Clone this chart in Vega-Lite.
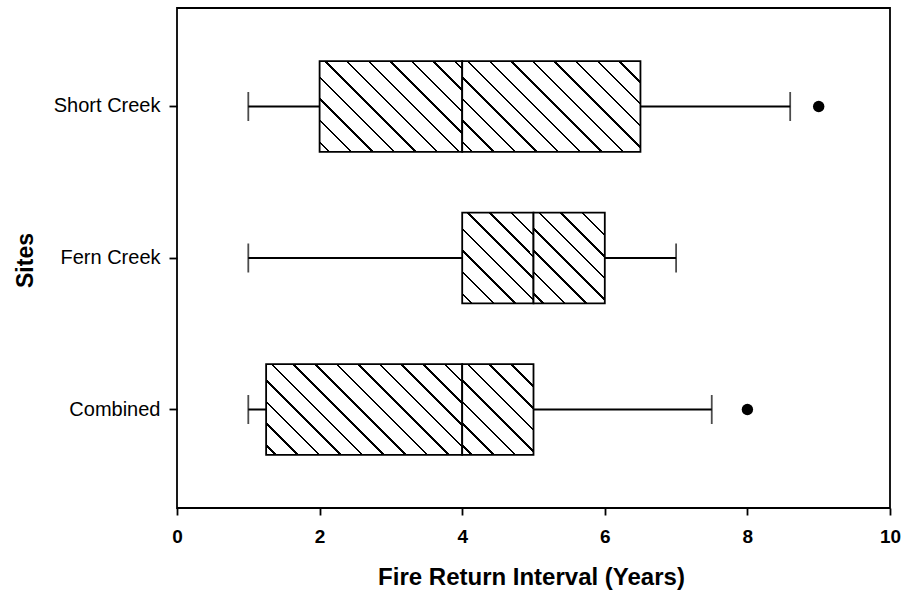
{
  "$schema": "https://vega.github.io/schema/vega-lite/v6.json",
  "width": 713,
  "height": 500,
  "autosize": {"type": "none"},
  "padding": {"left": 177, "top": 8, "right": 24, "bottom": 82},
  "background": "white",
  "config": {
    "font": "Liberation Sans",
    "view": {"stroke": "black", "strokeWidth": 1.8}
  },
  "datasets": {
    "boxes": [
      {"site": "Short Creek", "lower": 1, "q1": 2, "median": 4, "q3": 6.5, "upper": 8.6},
      {"site": "Fern Creek", "lower": 1, "q1": 4, "median": 5, "q3": 6, "upper": 7},
      {"site": "Combined", "lower": 1, "q1": 1.25, "median": 4, "q3": 5, "upper": 7.5}
    ],
    "outliers": [
      {"site": "Short Creek", "value": 9},
      {"site": "Combined", "value": 8}
    ]
  },
  "data": {"name": "boxes"},
  "encoding": {
    "y": {
      "field": "site",
      "type": "nominal",
      "sort": ["Short Creek", "Fern Creek", "Combined"],
      "scale": {"paddingInner": 0, "paddingOuter": 0.15},
      "axis": {
        "title": "Sites",
        "titleFont": "Liberation Sans",
        "titleFontSize": 23,
        "titleFontWeight": "bold",
        "titleColor": "black",
        "titleAngle": 270,
        "titleBaseline": "alphabetic",
        "titleAlign": "center",
        "titleX": -145,
        "titleY": 252,
        "domain": false,
        "grid": false,
        "ticks": true,
        "tickColor": "black",
        "tickWidth": 1.8,
        "tickSize": 8,
        "labelFontSize": 20,
        "labelColor": "black",
        "labelPadding": 9
      }
    }
  },
  "layer": [
    {
      "mark": {"type": "rule", "color": "black", "strokeWidth": 1.8},
      "encoding": {
        "x": {
          "field": "lower",
          "type": "quantitative",
          "scale": {"domain": [0, 10], "nice": false, "zero": false},
          "axis": {
            "title": "Fire Return Interval (Years)",
            "titleFontSize": 24,
            "titleFontWeight": "bold",
            "titleColor": "black",
            "titleBaseline": "alphabetic",
            "titleX": 354,
            "titleY": 76,
            "values": [0, 2, 4, 6, 8, 10],
            "format": "d",
            "domain": false,
            "grid": false,
            "tickColor": "black",
            "tickWidth": 1.8,
            "tickSize": 7,
            "labelFontSize": 19,
            "labelFontWeight": "bold",
            "labelColor": "black",
            "labelPadding": 12,
            "labelFlush": false
          }
        },
        "x2": {"field": "upper"}
      }
    },
    {
      "mark": {"type": "tick", "color": "black", "thickness": 1.8, "size": 29},
      "encoding": {"x": {"field": "lower", "type": "quantitative"}}
    },
    {
      "mark": {"type": "tick", "color": "black", "thickness": 1.8, "size": 29},
      "encoding": {"x": {"field": "upper", "type": "quantitative"}}
    },
    {
      "transform": [{"filter": "datum.site === 'Short Creek'"}],
      "mark": {
        "type": "bar",
        "height": {"band": 0.6},
        "stroke": "black",
        "strokeWidth": 1.8,
        "fill": {
          "gradient": "linear", "x1": 0, "y1": 1, "x2": 1.16433, "y2": 0.2578,
          "stops": [
            {"offset": 0, "color": "white"},
            {"offset": 0.03747, "color": "white"}, {"offset": 0.03747, "color": "black"}, {"offset": 0.04818, "color": "black"}, {"offset": 0.04818, "color": "white"},
            {"offset": 0.12998, "color": "white"}, {"offset": 0.12998, "color": "black"}, {"offset": 0.14069, "color": "black"}, {"offset": 0.14069, "color": "white"},
            {"offset": 0.22248, "color": "white"}, {"offset": 0.22248, "color": "black"}, {"offset": 0.23319, "color": "black"}, {"offset": 0.23319, "color": "white"},
            {"offset": 0.31499, "color": "white"}, {"offset": 0.31499, "color": "black"}, {"offset": 0.3257, "color": "black"}, {"offset": 0.3257, "color": "white"},
            {"offset": 0.40749, "color": "white"}, {"offset": 0.40749, "color": "black"}, {"offset": 0.4182, "color": "black"}, {"offset": 0.4182, "color": "white"},
            {"offset": 0.5, "color": "white"}, {"offset": 0.5, "color": "black"}, {"offset": 0.51071, "color": "black"}, {"offset": 0.51071, "color": "white"},
            {"offset": 0.59251, "color": "white"}, {"offset": 0.59251, "color": "black"}, {"offset": 0.60321, "color": "black"}, {"offset": 0.60321, "color": "white"},
            {"offset": 0.68501, "color": "white"}, {"offset": 0.68501, "color": "black"}, {"offset": 0.69572, "color": "black"}, {"offset": 0.69572, "color": "white"},
            {"offset": 0.77752, "color": "white"}, {"offset": 0.77752, "color": "black"}, {"offset": 0.78822, "color": "black"}, {"offset": 0.78822, "color": "white"},
            {"offset": 0.87002, "color": "white"}, {"offset": 0.87002, "color": "black"}, {"offset": 0.88073, "color": "black"}, {"offset": 0.88073, "color": "white"},
            {"offset": 0.96253, "color": "white"}, {"offset": 0.96253, "color": "black"}, {"offset": 0.97323, "color": "black"}, {"offset": 0.97323, "color": "white"},
            {"offset": 1, "color": "white"}
          ]
        }
      },
      "encoding": {"x": {"field": "q1", "type": "quantitative"}, "x2": {"field": "median"}}
    },
    {
      "transform": [{"filter": "datum.site === 'Short Creek'"}],
      "mark": {
        "type": "bar",
        "height": {"band": 0.6},
        "stroke": "black",
        "strokeWidth": 1.8,
        "fill": {
          "gradient": "linear", "x1": 0, "y1": 1, "x2": 1.19832, "y2": 0.38891,
          "stops": [
            {"offset": 0, "color": "white"},
            {"offset": 0.03251, "color": "white"}, {"offset": 0.03251, "color": "black"}, {"offset": 0.0418, "color": "black"}, {"offset": 0.0418, "color": "white"},
            {"offset": 0.11276, "color": "white"}, {"offset": 0.11276, "color": "black"}, {"offset": 0.12205, "color": "black"}, {"offset": 0.12205, "color": "white"},
            {"offset": 0.19302, "color": "white"}, {"offset": 0.19302, "color": "black"}, {"offset": 0.2023, "color": "black"}, {"offset": 0.2023, "color": "white"},
            {"offset": 0.27327, "color": "white"}, {"offset": 0.27327, "color": "black"}, {"offset": 0.28256, "color": "black"}, {"offset": 0.28256, "color": "white"},
            {"offset": 0.35352, "color": "white"}, {"offset": 0.35352, "color": "black"}, {"offset": 0.36281, "color": "black"}, {"offset": 0.36281, "color": "white"},
            {"offset": 0.43377, "color": "white"}, {"offset": 0.43377, "color": "black"}, {"offset": 0.44306, "color": "black"}, {"offset": 0.44306, "color": "white"},
            {"offset": 0.51403, "color": "white"}, {"offset": 0.51403, "color": "black"}, {"offset": 0.52331, "color": "black"}, {"offset": 0.52331, "color": "white"},
            {"offset": 0.59428, "color": "white"}, {"offset": 0.59428, "color": "black"}, {"offset": 0.60357, "color": "black"}, {"offset": 0.60357, "color": "white"},
            {"offset": 0.67453, "color": "white"}, {"offset": 0.67453, "color": "black"}, {"offset": 0.68382, "color": "black"}, {"offset": 0.68382, "color": "white"},
            {"offset": 0.75478, "color": "white"}, {"offset": 0.75478, "color": "black"}, {"offset": 0.76407, "color": "black"}, {"offset": 0.76407, "color": "white"},
            {"offset": 0.83504, "color": "white"}, {"offset": 0.83504, "color": "black"}, {"offset": 0.84433, "color": "black"}, {"offset": 0.84433, "color": "white"},
            {"offset": 0.91529, "color": "white"}, {"offset": 0.91529, "color": "black"}, {"offset": 0.92458, "color": "black"}, {"offset": 0.92458, "color": "white"},
            {"offset": 1, "color": "white"}
          ]
        }
      },
      "encoding": {"x": {"field": "median", "type": "quantitative"}, "x2": {"field": "q3"}}
    },
    {
      "transform": [{"filter": "datum.site === 'Combined'"}],
      "mark": {
        "type": "bar",
        "height": {"band": 0.6},
        "stroke": "black",
        "strokeWidth": 1.8,
        "fill": {
          "gradient": "linear", "x1": 0, "y1": 1, "x2": 1.20469, "y2": 0.44151,
          "stops": [
            {"offset": 0, "color": "white"},
            {"offset": 0.03049, "color": "white"}, {"offset": 0.03049, "color": "black"}, {"offset": 0.0392, "color": "black"}, {"offset": 0.0392, "color": "white"},
            {"offset": 0.10576, "color": "white"}, {"offset": 0.10576, "color": "black"}, {"offset": 0.11447, "color": "black"}, {"offset": 0.11447, "color": "white"},
            {"offset": 0.18103, "color": "white"}, {"offset": 0.18103, "color": "black"}, {"offset": 0.18974, "color": "black"}, {"offset": 0.18974, "color": "white"},
            {"offset": 0.25629, "color": "white"}, {"offset": 0.25629, "color": "black"}, {"offset": 0.26501, "color": "black"}, {"offset": 0.26501, "color": "white"},
            {"offset": 0.33156, "color": "white"}, {"offset": 0.33156, "color": "black"}, {"offset": 0.34027, "color": "black"}, {"offset": 0.34027, "color": "white"},
            {"offset": 0.40683, "color": "white"}, {"offset": 0.40683, "color": "black"}, {"offset": 0.41554, "color": "black"}, {"offset": 0.41554, "color": "white"},
            {"offset": 0.4821, "color": "white"}, {"offset": 0.4821, "color": "black"}, {"offset": 0.49081, "color": "black"}, {"offset": 0.49081, "color": "white"},
            {"offset": 0.55737, "color": "white"}, {"offset": 0.55737, "color": "black"}, {"offset": 0.56608, "color": "black"}, {"offset": 0.56608, "color": "white"},
            {"offset": 0.63263, "color": "white"}, {"offset": 0.63263, "color": "black"}, {"offset": 0.64135, "color": "black"}, {"offset": 0.64135, "color": "white"},
            {"offset": 0.7079, "color": "white"}, {"offset": 0.7079, "color": "black"}, {"offset": 0.71661, "color": "black"}, {"offset": 0.71661, "color": "white"},
            {"offset": 0.78317, "color": "white"}, {"offset": 0.78317, "color": "black"}, {"offset": 0.79188, "color": "black"}, {"offset": 0.79188, "color": "white"},
            {"offset": 0.85844, "color": "white"}, {"offset": 0.85844, "color": "black"}, {"offset": 0.86715, "color": "black"}, {"offset": 0.86715, "color": "white"},
            {"offset": 0.93371, "color": "white"}, {"offset": 0.93371, "color": "black"}, {"offset": 0.94242, "color": "black"}, {"offset": 0.94242, "color": "white"},
            {"offset": 1, "color": "white"}
          ]
        }
      },
      "encoding": {"x": {"field": "q1", "type": "quantitative"}, "x2": {"field": "median"}}
    },
    {
      "transform": [{"filter": "datum.site === 'Fern Creek'"}],
      "mark": {
        "type": "bar",
        "height": {"band": 0.6},
        "stroke": "black",
        "strokeWidth": 1.8,
        "fill": {
          "gradient": "linear", "x1": 0, "y1": 1, "x2": 0.8665, "y2": -0.10471,
          "stops": [
            {"offset": 0, "color": "white"},
            {"offset": 0.05395, "color": "white"}, {"offset": 0.05395, "color": "black"}, {"offset": 0.06936, "color": "black"}, {"offset": 0.06936, "color": "white"},
            {"offset": 0.18711, "color": "white"}, {"offset": 0.18711, "color": "black"}, {"offset": 0.20253, "color": "black"}, {"offset": 0.20253, "color": "white"},
            {"offset": 0.32028, "color": "white"}, {"offset": 0.32028, "color": "black"}, {"offset": 0.3357, "color": "black"}, {"offset": 0.3357, "color": "white"},
            {"offset": 0.45345, "color": "white"}, {"offset": 0.45345, "color": "black"}, {"offset": 0.46887, "color": "black"}, {"offset": 0.46887, "color": "white"},
            {"offset": 0.58662, "color": "white"}, {"offset": 0.58662, "color": "black"}, {"offset": 0.60203, "color": "black"}, {"offset": 0.60203, "color": "white"},
            {"offset": 0.71979, "color": "white"}, {"offset": 0.71979, "color": "black"}, {"offset": 0.7352, "color": "black"}, {"offset": 0.7352, "color": "white"},
            {"offset": 0.85296, "color": "white"}, {"offset": 0.85296, "color": "black"}, {"offset": 0.86837, "color": "black"}, {"offset": 0.86837, "color": "white"},
            {"offset": 1, "color": "white"}
          ]
        }
      },
      "encoding": {"x": {"field": "q1", "type": "quantitative"}, "x2": {"field": "median"}}
    },
    {
      "transform": [{"filter": "datum.site !== 'Short Creek'"}],
      "mark": {
        "type": "bar",
        "height": {"band": 0.6},
        "stroke": "black",
        "strokeWidth": 1.8,
        "fill": {
          "gradient": "linear", "x1": 0, "y1": 1, "x2": 0.8665, "y2": -0.10471,
          "stops": [
            {"offset": 0, "color": "white"},
            {"offset": 0.05395, "color": "white"}, {"offset": 0.05395, "color": "black"}, {"offset": 0.06936, "color": "black"}, {"offset": 0.06936, "color": "white"},
            {"offset": 0.18711, "color": "white"}, {"offset": 0.18711, "color": "black"}, {"offset": 0.20253, "color": "black"}, {"offset": 0.20253, "color": "white"},
            {"offset": 0.32028, "color": "white"}, {"offset": 0.32028, "color": "black"}, {"offset": 0.3357, "color": "black"}, {"offset": 0.3357, "color": "white"},
            {"offset": 0.45345, "color": "white"}, {"offset": 0.45345, "color": "black"}, {"offset": 0.46887, "color": "black"}, {"offset": 0.46887, "color": "white"},
            {"offset": 0.58662, "color": "white"}, {"offset": 0.58662, "color": "black"}, {"offset": 0.60203, "color": "black"}, {"offset": 0.60203, "color": "white"},
            {"offset": 0.71979, "color": "white"}, {"offset": 0.71979, "color": "black"}, {"offset": 0.7352, "color": "black"}, {"offset": 0.7352, "color": "white"},
            {"offset": 0.85296, "color": "white"}, {"offset": 0.85296, "color": "black"}, {"offset": 0.86837, "color": "black"}, {"offset": 0.86837, "color": "white"},
            {"offset": 1, "color": "white"}
          ]
        }
      },
      "encoding": {"x": {"field": "median", "type": "quantitative"}, "x2": {"field": "q3"}}
    },
    {
      "data": {"name": "outliers"},
      "mark": {"type": "point", "filled": true, "color": "black", "opacity": 1, "size": 130},
      "encoding": {"x": {"field": "value", "type": "quantitative"}}
    }
  ]
}
